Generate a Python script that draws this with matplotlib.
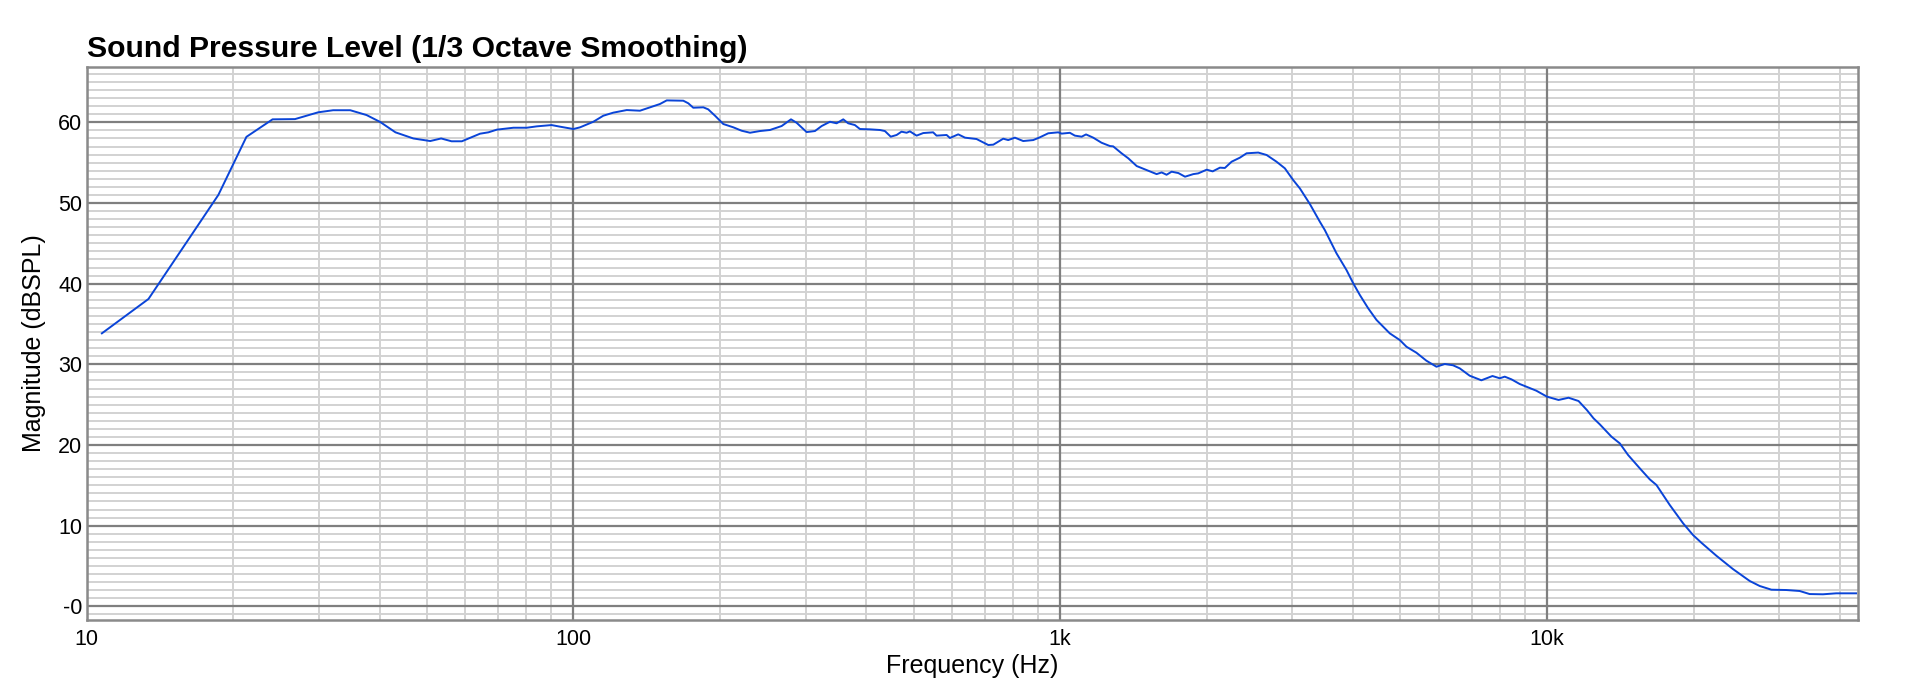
import matplotlib
matplotlib.use("Agg")
import matplotlib.pyplot as plt
from matplotlib.ticker import FixedLocator, FuncFormatter, MultipleLocator
import numpy as np

plt.rcParams["font.family"] = ["Liberation Sans", "DejaVu Sans"]
plt.rcParams["axes.unicode_minus"] = False

# -------------------------------------------------
# Data (Hz, dBSPL)
# -------------------------------------------------

freq_hz = [
    10.75, 13.4, 18.65, 21.3, 24.1, 26.8, 29.9, 32.1, 34.8, 37.6,
    40.1, 43.1, 46.9, 50.8, 53.5, 56.2, 59.0, 64.3, 66.9, 69.6,
    75.3, 80.2, 84.1, 90.2, 93.9, 100, 103.2, 109.9, 115.2, 120.8,
    128.7, 137.0, 143.7, 150.6, 155.5, 168.2, 172.2, 176.3, 184.9, 189.2,
    195.4, 203.2, 213.1, 221.6, 230.6, 241.7, 253.4, 267.8, 279.9, 287.4,
    301.4, 313.5, 323.6, 336.5, 347.3, 358.4, 366.9, 378.7, 387.8, 406.4,
    426.2, 436.4, 448.7, 461.3, 472.1, 483.7, 491.2, 507, 523.2, 548.3,
    557.2, 584.5, 593.6, 617.4, 637.4, 673.3, 711.7, 728.8, 763.8, 782.1,
    807.2, 839.5, 880.2, 908.3, 945, 990.8, 1007, 1047, 1072, 1107,
    1130, 1169, 1216, 1265, 1285, 1337, 1380, 1436, 1506, 1578,
    1616, 1654, 1694, 1749, 1805, 1877, 1921, 2000, 2057, 2129,
    2179, 2250, 2340, 2415, 2552, 2655, 2782, 2894, 3010, 3108,
    3258, 3415, 3496, 3695, 3873, 3999, 4126, 4292, 4465, 4754,
    4985, 5145, 5392, 5653, 5929, 6166, 6413, 6619, 6937, 7333,
    7727, 7998, 8190, 8452, 8790, 9141, 9508, 10000, 10563, 11074,
    11610, 12078, 12466, 12838, 13566, 14111, 14676, 15510, 16260, 16783,
    17875, 19038, 19952, 20759, 22284, 24100, 26090, 27350, 28910, 31020,
    33040, 34640, 36890, 39270, 43150,
]

spl_db = [
    33.84, 38.1, 51.0, 58.2, 60.37, 60.4, 61.24, 61.5, 61.5, 60.9,
    60.04, 58.76, 58.0, 57.68, 58.0, 57.65, 57.65, 58.59, 58.76, 59.09,
    59.33, 59.33, 59.5, 59.66, 59.46, 59.17, 59.38, 60.07, 60.82, 61.2,
    61.52, 61.44, 61.86, 62.27, 62.72, 62.68, 62.36, 61.81, 61.86, 61.61,
    60.82, 59.79, 59.38, 58.96, 58.71, 58.92, 59.05, 59.54, 60.37, 59.95,
    58.79, 58.92, 59.54, 60.07, 59.88, 60.37, 59.88, 59.66, 59.17, 59.13,
    59.05, 58.92, 58.22, 58.43, 58.84, 58.71, 58.88, 58.35, 58.67, 58.76,
    58.35, 58.43, 58.06, 58.51, 58.1, 57.93, 57.19, 57.23, 57.97, 57.8,
    58.1, 57.68, 57.8, 58.14, 58.64, 58.76, 58.6, 58.7, 58.35, 58.22,
    58.5, 58.1, 57.47, 57.06, 57.02, 56.16, 55.54, 54.58, 54.08, 53.58,
    53.79, 53.5, 53.88, 53.71, 53.26, 53.58, 53.67, 54.13, 53.92, 54.38,
    54.34, 55.12, 55.62, 56.16, 56.25, 55.95, 55.12, 54.3, 52.85, 51.8,
    49.87, 47.68, 46.65, 43.76, 41.7, 40.05, 38.6, 36.95, 35.5, 33.84,
    33.01, 32.18, 31.44, 30.45, 29.7, 30.04, 29.88, 29.5, 28.59, 28.02,
    28.55, 28.27, 28.47, 28.14, 27.56, 27.15, 26.73, 25.99, 25.58, 25.86,
    25.45, 24.33, 23.3, 22.56, 21.03, 20.2, 18.76, 17.11, 15.74, 15.04,
    12.56, 10.29, 8.84, 7.88, 6.27, 4.62, 3.14, 2.52, 2.06, 2.02,
    1.9, 1.52, 1.49, 1.61, 1.61,
]

x_ticks = [10, 100, 1000, 10000]
x_tick_labels = ["10", "100", "1k", "10k"]
y_ticks = [0, 10, 20, 30, 40, 50, 60]


# -------------------------------------------------
# Figure: a back axes for the minor grid, a front axes for the rest
# so the dark major lines stay solid over the light ones
# -------------------------------------------------

fig = plt.figure(figsize=(19.2, 6.93), dpi=100)
rect = [0.0451, 0.1053, 0.9225, 0.7985]

ax_minor = fig.add_axes(rect)
ax = fig.add_axes(rect, sharex=ax_minor, sharey=ax_minor)
ax.patch.set_alpha(0)

ax.plot(freq_hz, spl_db, color="#0a44d8", linewidth=1.4, zorder=3)

ax.set_xscale("log")
ax.set_xlim(10, 43500)
ax.set_ylim(-1.7, 66.9)

minor_x = [m * 10 ** d for d in range(1, 5) for m in range(2, 10)]

# back axes: minor grid only
ax_minor.xaxis.set_minor_locator(FixedLocator(minor_x))
ax_minor.yaxis.set_minor_locator(MultipleLocator(1))
ax_minor.grid(which="minor", color="#d2d2d2", linewidth=1.4)
ax_minor.grid(which="major", visible=False)
ax_minor.tick_params(which="both", length=0, labelbottom=False,
                     labelleft=False)
for spine in ax_minor.spines.values():
    spine.set_visible(False)

# front axes: major grid, labels, frame
ax.xaxis.set_major_locator(FixedLocator(x_ticks))
ax.xaxis.set_major_formatter(FuncFormatter(
    lambda v, pos: x_tick_labels[x_ticks.index(int(round(v)))]
    if int(round(v)) in x_ticks else ""
))
ax.xaxis.set_minor_locator(FixedLocator(minor_x))
ax.xaxis.set_minor_formatter(FuncFormatter(lambda v, pos: ""))

ax.yaxis.set_major_locator(FixedLocator(y_ticks))
ax.yaxis.set_major_formatter(FuncFormatter(
    lambda v, pos: "-0" if abs(v) < 1e-9 else f"{v:.0f}"
))

ax.grid(which="major", color="#7f7f7f", linewidth=1.6)
ax.set_axisbelow(True)

ax.tick_params(which="both", length=0, labelsize=15.5)
ax.tick_params(axis="y", pad=3)
ax.tick_params(axis="x", pad=6.5)

for spine in ax.spines.values():
    spine.set_color("#8a8a8a")
    spine.set_linewidth(1.8)

ax.set_xlabel("Frequency (Hz)", fontsize=18, labelpad=3)
ax.set_ylabel("Magnitude (dBSPL)", fontsize=18, labelpad=9)

ax.set_title(
    "Sound Pressure Level (1/3 Octave Smoothing)",
    loc="left",
    fontsize=21.7,
    fontweight="bold",
    pad=7
)

plt.savefig("out.png", dpi=100)
plt.close()
